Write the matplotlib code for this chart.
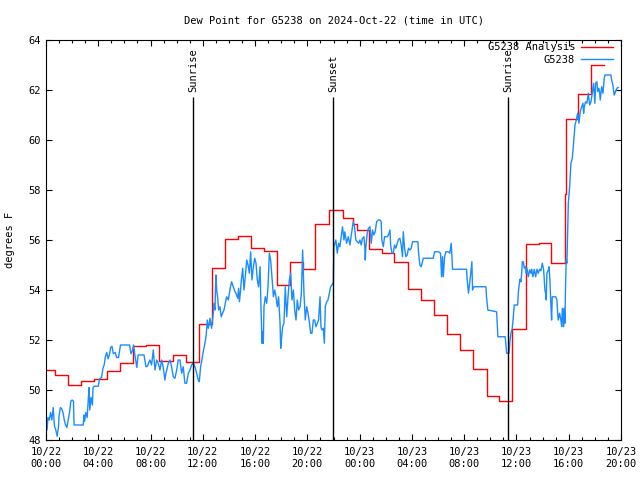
import numpy as np
import matplotlib
matplotlib.use("Agg")
import matplotlib.pyplot as plt
from matplotlib.ticker import MultipleLocator

plt.rcParams['font.family'] = ['DejaVu Sans Mono']

# hours since 2024-10-22 00:00 UTC
# hourly analysis (step line)
analysis_t = [0, 0.68, 1.68, 2.68, 3.68, 4.68, 5.68, 6.68, 7.68, 8.68,
              9.68, 10.68, 11.68, 12.72, 13.68, 14.7, 15.7, 16.7, 17.66, 18.68,
              19.7, 20.62, 21.68, 22.7, 23.5, 23.8, 24.7, 25.7, 26.6, 27.7,
              28.7, 29.7, 30.72, 31.7, 32.7, 33.72, 34.7, 35.65, 36.7, 37.7,
              38.65, 39.75, 39.8, 40.7, 41.7, 42.7]
analysis_v = [50.8, 50.6, 50.2, 50.35, 50.43, 50.75, 51.1, 51.77, 51.8, 51.15,
              51.4, 51.12, 52.63, 54.9, 56.03, 56.16, 55.7, 55.56, 54.19, 55.12,
              54.83, 56.63, 57.19, 56.9, 56.65, 56.4, 55.63, 55.47, 55.12, 54.03,
              53.6, 52.99, 52.23, 51.59, 50.83, 49.76, 49.55, 52.43, 55.83, 55.9,
              55.08, 57.84, 60.83, 61.84, 63.0, 63.0]

# station observations
obs_t = [0.00, 0.08, 0.15, 0.25, 0.35, 0.45, 0.55, 0.65, 0.75, 0.85,
         0.95, 1.0, 1.1, 1.2, 1.3, 1.4, 1.5, 1.6, 1.7, 1.8,
         1.9, 2.0, 2.1, 2.15, 2.85, 2.9, 2.95, 3.05, 3.15, 3.25,
         3.3, 3.35, 3.45, 3.55, 3.6, 3.7, 4.0, 4.1, 4.25, 4.35,
         4.45, 4.55, 4.65, 4.75, 4.85, 4.95, 5.05, 5.15, 5.3, 5.4,
         5.55, 5.7, 6.4, 6.5, 6.6, 6.7, 6.8, 6.95, 7.05,
         7.19, 7.5, 7.65, 7.75, 7.95, 8.08, 8.21, 8.34, 8.47, 8.59,
         8.72, 8.85, 8.98, 9.1, 9.18, 9.36, 9.49, 9.61, 9.74, 9.87,
         10.0, 10.12, 10.25, 10.38, 10.5, 10.63, 10.76, 10.89, 11.02, 11.14,
         11.27, 11.4, 11.53, 11.65, 11.73, 11.83, 11.93, 12.03, 12.16, 12.24,
         12.29, 12.34, 12.42, 12.49, 12.55, 12.67, 12.8, 12.85, 12.93, 13.0,
         13.06, 13.13, 13.21, 13.31, 13.41, 13.51, 13.62, 13.72, 13.82, 13.95,
         14.07, 14.2, 14.33, 14.46,
         14.54, 14.67, 14.74, 14.8, 14.87, 14.95, 15.05, 15.15, 15.25, 15.36,
         15.46, 15.56, 15.66, 15.76, 15.87, 15.97, 16.07, 16.17, 16.27, 16.38,
         16.45, 16.53, 16.58, 16.63, 16.68, 16.78, 16.89, 16.99, 17.09, 17.19,
         17.29, 17.4, 17.5, 17.6, 17.7, 17.8, 17.91, 17.96, 18.01, 18.11,
         18.21, 18.31, 18.37, 18.42, 18.52, 18.62, 18.72, 18.82, 18.93, 19.03,
         19.13, 19.23, 19.33, 19.44, 19.54, 19.64, 19.69, 19.74, 19.84, 19.95,
         20.05, 20.15, 20.25, 20.35, 20.46, 20.56, 20.66, 20.76, 20.86, 20.97,
         21.04, 21.12, 21.22, 21.3, 21.37, 21.48, 21.58, 21.68, 21.78, 21.88,
         21.99,
         22.03, 22.18, 22.29, 22.39, 22.49, 22.62, 22.69, 22.8, 22.87, 23.0,
         23.13, 23.26, 23.38, 23.51, 23.61, 23.71, 23.82, 23.92, 24.02, 24.12,
         24.22, 24.33, 24.4, 24.43, 24.48, 24.58, 24.68, 24.79, 24.89, 24.99,
         25.09, 25.19, 25.3, 25.42, 25.55, 25.65, 25.7, 25.81, 25.91, 26.01,
         26.11, 26.21, 26.32, 26.37, 26.47, 26.57, 26.67, 26.77, 26.88, 26.98,
         27.08, 27.18, 27.28, 27.34, 27.44, 27.54, 27.64, 27.74, 27.85, 27.95,
         28.05, 28.3, 28.46, 28.51, 28.61, 28.71, 28.87, 29.63, 29.73, 30.04,
         30.19, 30.27, 30.34, 30.4, 30.5, 30.6, 30.8, 30.9, 31.01, 31.06,
         31.11, 32.18, 32.23, 32.33, 32.49, 32.59, 32.64, 32.74, 33.66, 33.71,
         33.81, 34.48, 34.58, 35.14,
         35.25, 35.43, 35.5, 35.58, 35.68, 35.76, 35.83, 36.09, 36.14, 36.19,
         36.27, 36.34, 36.4, 36.45, 36.52, 36.6, 36.7, 36.75, 36.8, 36.91,
         37.01, 37.11, 37.16, 37.26, 37.36, 37.47, 37.57, 37.67, 37.77, 37.87,
         37.98, 38.03, 38.08, 38.18, 38.23, 38.28, 38.33, 38.44, 38.49, 38.56,
         38.64, 38.69, 38.74, 38.84, 39.0, 39.1, 39.15, 39.2, 39.3, 39.4,
         39.46, 39.51, 39.61, 39.66, 39.71, 39.76, 39.81, 39.86, 39.97, 40.07,
         40.17, 40.27, 40.37, 40.48, 40.58, 40.68, 40.78, 40.88, 40.99, 41.09,
         41.14, 41.19, 41.29, 41.39, 41.5, 41.6, 41.7, 41.8, 41.9, 41.95,
         42.0, 42.06, 42.16, 42.21, 42.31, 42.36, 42.41, 42.52, 42.62, 42.72,
         42.77, 43.23, 43.28, 43.38, 43.48, 43.54, 43.64, 43.69, 43.79]
obs_v = [49.1, 48.4, 48.9, 48.8, 49.1, 48.8, 49.3, 48.55, 48.4, 48.15,
         48.5, 48.95, 49.3, 49.25, 49.1, 48.8, 48.6, 48.5, 48.8, 49.1,
         49.55, 49.6, 49.55, 48.6, 48.6, 49.0, 48.75, 49.1, 48.9, 49.75,
         50.1, 49.2, 49.7, 49.4, 50.1, 50.15, 50.15, 50.45, 50.5, 50.85,
         51.0, 51.35, 51.5, 51.25, 51.4, 51.7, 51.75, 51.45, 51.5, 51.3,
         51.3, 51.8, 51.8, 51.45, 51.55, 51.8, 51.4, 50.9, 51.4,
         51.4, 51.4, 50.93, 50.95, 51.2, 51.0, 51.6, 50.8, 51.2, 51.07,
         50.8, 51.2, 50.87, 50.4, 50.67, 51.07, 51.2, 50.93, 50.53, 50.47,
         50.8, 51.2, 51.2, 50.67, 50.93, 50.27, 50.27, 50.67, 50.8, 51.0,
         51.07, 50.93, 50.67, 50.4, 50.33, 50.93, 51.2, 51.53, 51.87, 52.13,
         52.4, 52.8, 52.47, 52.67, 52.87, 52.47, 53.07, 53.47, 53.2, 54.6,
         54.0, 53.73, 53.2, 53.33, 52.93, 53.07, 53.2, 53.47, 53.73, 53.6,
         54.0, 54.33, 54.13, 53.93,
         53.87, 53.67, 54.07, 53.53, 53.87, 54.4, 54.87, 54.0, 54.53, 55.2,
         55.0, 54.67, 55.53, 54.4, 54.93, 55.27, 55.07, 54.4, 54.13, 54.93,
         53.33, 51.87, 52.33, 51.87, 53.33, 53.73, 53.47, 54.13, 55.47, 55.2,
         54.53, 53.73, 54.0, 53.73, 53.33, 53.73, 52.67, 51.67, 52.0, 52.53,
         52.67, 54.13, 53.47, 52.93, 53.73, 54.4, 54.67, 53.6, 54.0, 53.2,
         52.8, 53.6, 53.2, 53.33, 53.87, 55.6, 54.8, 53.87, 52.8, 53.33,
         53.07, 52.73, 52.27, 52.27, 52.8, 52.8, 52.53, 52.67, 52.8, 53.73,
         52.53, 52.4, 52.47, 51.87, 53.33, 53.53, 53.6, 53.87, 54.13, 54.2,
         54.3,
         55.73, 56.0, 55.47, 55.87, 55.73, 56.27, 56.53, 56.0, 56.33, 55.87,
         56.13, 55.8, 56.27, 56.73, 56.53, 56.0, 55.93, 55.87, 56.0, 55.8,
         56.07, 56.13, 55.67, 55.2, 55.73, 56.27, 56.47, 56.53, 55.87, 56.4,
         56.2, 56.33, 56.73, 56.8, 56.8, 56.73, 56.0, 55.73, 56.13, 56.13,
         56.13, 56.2, 56.4, 55.8, 55.47, 55.47, 55.8, 55.67, 55.87, 56.03,
         56.07, 55.8, 55.33, 56.33, 55.67, 55.33, 55.4, 55.67, 55.6, 55.67,
         55.93, 55.93, 55.93, 55.47, 55.0, 54.93, 55.27, 55.27, 55.53, 55.53,
         55.47, 54.53, 55.33, 54.53, 55.33, 55.53, 55.53, 55.47, 55.87, 55.33,
         54.83, 54.83, 54.4, 53.87, 54.6, 55.13, 54.0, 54.13, 54.13, 53.73,
         53.2, 53.13, 52.13, 52.13,
         51.47, 51.47, 51.93, 52.27, 52.47, 52.93, 53.4, 53.4, 53.87, 54.13,
         54.43, 54.33, 54.67, 55.13, 55.13, 54.87, 54.93, 54.67, 54.87, 54.53,
         54.8, 54.67, 54.83, 54.53, 54.83, 54.53, 54.83, 54.67, 54.83, 54.77,
         55.07, 54.93, 54.8, 54.0, 53.87, 53.6, 54.67, 54.8, 54.93, 54.4,
         53.33, 52.8, 53.73, 53.73, 53.73, 53.6, 53.07, 52.8, 53.07, 52.8,
         52.53, 53.27, 52.53, 53.27, 52.67, 54.27, 55.2, 55.07, 57.47, 58.13,
         59.07, 59.27, 59.87, 60.6, 60.8, 61.07, 60.67, 61.13, 61.33, 61.47,
         61.07, 61.33, 61.53, 61.47, 61.87, 61.4, 61.53, 61.87, 62.27, 61.87,
         61.47, 62.27, 62.33, 61.93, 62.07, 61.93, 61.6, 62.13, 61.87, 62.47,
         62.6, 62.6, 62.4, 62.2, 61.8, 61.87, 62.0, 62.07, 62.1]

sun_t = [11.27, 21.98, 35.38]
sun_labels = ['Sunrise', 'Sunset', 'Sunrise']

tick_hours = list(range(0, 45, 4))
tick_labels = ['10/22\n00:00', '10/22\n04:00', '10/22\n08:00', '10/22\n12:00',
               '10/22\n16:00', '10/22\n20:00', '10/23\n00:00', '10/23\n04:00',
               '10/23\n08:00', '10/23\n12:00', '10/23\n16:00', '10/23\n20:00']

fs = 7.5
fig = plt.figure(figsize=(6.4, 4.8), dpi=100)
ax = fig.add_axes([46 / 640, 40 / 480, 575 / 640, 400 / 480])

ax.plot(analysis_t, analysis_v, drawstyle='steps-post', color='#ff0000',
        lw=1.0, label='G5238 Analysis')
ax.plot(obs_t, obs_v, color='#1a8cff', lw=1.0, label='G5238')

ax.vlines(sun_t, 48, 61.72, color='black', lw=1.0)
for t, lab in zip(sun_t, sun_labels):
    ax.text(t, 61.9, lab, rotation=90, ha='center', va='bottom', fontsize=fs)

ax.set_xlim(0, 44)
ax.set_ylim(48, 64)
ax.set_xticks(tick_hours)
ax.set_xticklabels(tick_labels, fontsize=fs)
ax.xaxis.set_minor_locator(MultipleLocator(1))
ax.set_yticks(range(48, 65, 2))
ax.tick_params(axis='y', labelsize=fs)
ax.tick_params(which='major', direction='in', length=4, width=0.8,
               top=True, right=True, pad=4)
ax.tick_params(which='minor', direction='in', length=2, width=0.8,
               top=True, right=True)
ax.tick_params(axis='x', pad=5)
for s in ax.spines.values():
    s.set_linewidth(0.8)

ax.set_title('Dew Point for G5238 on 2024-Oct-22 (time in UTC)', fontsize=fs, pad=12)
fig.text(10 / 640, 0.5, 'degrees F', rotation=90, ha='center', va='center', fontsize=fs)

ax.legend(loc='upper right', bbox_to_anchor=(0.998, 1.012), frameon=False,
          markerfirst=False, handlelength=3.0, handletextpad=0.6,
          labelspacing=0.2, borderpad=0.2, fontsize=fs)

fig.savefig('out.png', dpi=100)
